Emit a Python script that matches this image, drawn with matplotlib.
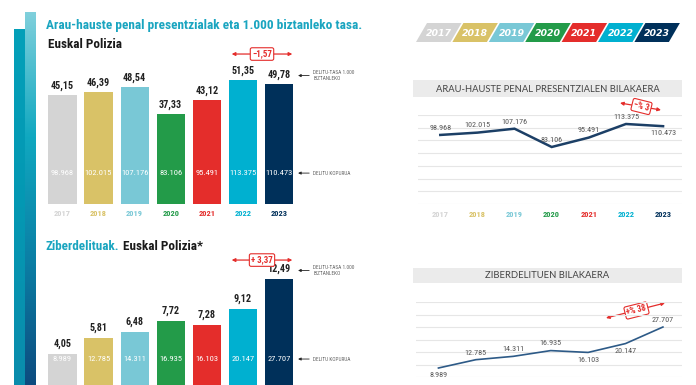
import numpy as np
import matplotlib
matplotlib.use('Agg')
import matplotlib.pyplot as plt
from matplotlib import font_manager
from matplotlib.patches import Polygon, Rectangle
from matplotlib.colors import LinearSegmentedColormap

years = ['2017', '2018', '2019', '2020', '2021', '2022', '2023']
colors = ['#d4d4d4', '#d9c267', '#79c8d6', '#239b49', '#e42d2b', '#00b0d0', '#00305a']
tasa_pres = [45.15, 46.39, 48.54, 37.33, 43.12, 51.35, 49.78]
kop_pres = [98968, 102015, 107176, 83106, 95491, 113375, 110473]
tasa_ziber = [4.05, 5.81, 6.48, 7.72, 7.28, 9.12, 12.49]
kop_ziber = [8989, 12785, 14311, 16935, 16103, 20147, 27707]

W, H = 696, 385
fig = plt.figure(figsize=(W / 100, H / 100), dpi=100)
renderer = fig.canvas.get_renderer()

# buscar una fuente estrecha
fl = font_manager.fontManager.ttflist
def has(name, cond=False):
    return any(f.name == name and (not cond or 'condensed' in str(f.stretch)) for f in fl)

fam, stretch = 'Roboto', 'normal'
for name, cond in [('Liberation Sans Narrow', False), ('Roboto Condensed', False),
                   ('Noto Sans Condensed', False), ('Noto Sans', True),
                   ('DejaVu Sans', True), ('Open Sans', True)]:
    if has(name, cond):
        fam, stretch = name, ('condensed' if cond else 'normal')
        break
NK = dict(family=[fam, 'DejaVu Sans'], fontstretch=stretch)

red = '#e42d2b'
teal = '#1aa5c0'


def box(x0, y0, x1, y1):
    # pixel coords (origin top-left) -> figure fraction
    return [x0 / W, 1 - y1 / H, (x1 - x0) / W, (y1 - y0) / H]


def fmt(v):
    return f'{v:,}'.replace(',', '.')


def coma(v):
    return f'{v:.2f}'.replace('.', ',')


def fit(s, width, **kw):
    # tamaño de letra para que el texto mida 'width' pixeles
    t = fig.text(0, 0, s, fontsize=10, **kw)
    w = t.get_window_extent(renderer).width
    t.remove()
    return 10 * width / w


# fondo en pixeles
bg = fig.add_axes([0, 0, 1, 1], zorder=0)
grad = np.linspace(0, 1, 256).reshape(-1, 1)
cm1 = LinearSegmentedColormap.from_list('a', ['#03a0b9', '#0498b3', '#0a8cac'])
cm2 = LinearSegmentedColormap.from_list('b', ['#80d0dc', '#10a8c0', '#0b7fa5', '#0d4b7f'])
bg.imshow(grad, cmap=cm1, extent=(14, 24.5, H, 29), aspect='auto')
bg.imshow(grad, cmap=cm2, extent=(24.5, 35, H, 12), aspect='auto')
bg.set_xlim(0, W)
bg.set_ylim(H, 0)
bg.axis('off')

# leyenda de años
fs_leg = fit('2017', 26, fontweight='bold', style='italic')
for i, (yr, c) in enumerate(zip(years, colors)):
    x0 = 416 + 36.4 * i
    bg.add_patch(Polygon([(x0, 42), (x0 + 34.5, 42), (x0 + 45.5, 23), (x0 + 11, 23)],
                         closed=True, fc=c, ec='none'))
    bg.text(x0 + 22.7, 33, yr, color='white', fontsize=fs_leg, fontweight='bold',
            style='italic', ha='center', va='center')

# cabeceras grises
for y0, y1, label, wpx in [(80, 97, 'ARAU-HAUSTE PENAL PRESENTZIALEN BILAKAERA', 222),
                           (268, 283, 'ZIBERDELITUEN BILAKAERA', 123)]:
    bg.add_patch(Rectangle((413, y0), 269, y1 - y0, fc='#ebebeb', ec='none'))
    bg.text(547.5, (y0 + y1) / 2 + 0.5, label, ha='center', va='center',
            fontsize=fit(label, wpx, family='Lato'), family='Lato', color='#444444')

# titulos
tit = 'Arau-hauste penal presentzialak eta 1.000 biztanleko tasa.'
bg.text(46, 26, tit, color=teal, fontsize=fit(tit, 316, fontweight='bold', **NK),
        fontweight='bold', va='center', **NK)
fs_sub = fit('Euskal Polizia', 74, fontweight='bold', **NK)
bg.text(48, 45, 'Euskal Polizia', color='#1a1a1a', fontsize=fs_sub, fontweight='bold',
        va='center', **NK)
t1 = bg.text(46, 247, 'Ziberdelituak.', color=teal, fontsize=fs_sub, fontweight='bold',
             va='center', **NK)
bg.annotate(' Euskal Polizia*', xy=(1, 0.5), xycoords=t1, va='center', fontsize=fs_sub,
            fontweight='bold', color='#1a1a1a', **NK)

fs_val = min(fit('45,15', 23, fontweight='bold', **NK), 8)
fs_in = min(fit('102.015', 27, **NK), 8)
fs_year = min(fit('2017', 17, fontweight='bold', **NK), 7.5)
fs_small = min(fit('DELITU-TASA 1.000', 42, **NK), 5)
fs_line = min(fit('98.968', 22, **NK), 6.5)


def year_ticks(ax, pad):
    x = np.arange(len(years))
    ax.set_xticks(x, years)
    ax.tick_params(axis='x', length=0, pad=pad)
    for lab, c in zip(ax.get_xticklabels(), colors):
        lab.set_color(c)
        lab.set_fontweight('bold')
        lab.set_fontsize(fs_year)
        lab.set_family(NK['family'])
        lab.set_fontstretch(stretch)


def bar_panel(ax, tasa, kop, ymax, inner_y, arrow_y, lab_off, show_years):
    x = np.arange(len(years))
    ax.bar(x, tasa, width=0.78, color=colors, zorder=2)
    ax.set_xlim(-0.5, 6.5)
    ax.set_ylim(0, ymax)
    for i in x:
        ax.text(i, tasa[i] + lab_off, coma(tasa[i]), ha='center', va='bottom',
                fontsize=fs_val, fontweight='bold', color='#222222', **NK)
        ax.text(i, inner_y, fmt(kop[i]), ha='center', va='center', color='white',
                fontsize=fs_in, **NK)
    for s in ax.spines.values():
        s.set_visible(False)
    ax.set_yticks([])
    ax.patch.set_visible(False)
    if show_years:
        year_ticks(ax, 4)
    else:
        ax.set_xticks([])
    # flechas laterales
    rate_y = tasa[-1] + lab_off + ymax * 0.025
    ax.annotate('DELITU-TASA 1.000\nBIZTANLEKO', xy=(6.53, rate_y), xytext=(11, 0),
                textcoords='offset points', va='center', ha='left', fontsize=fs_small,
                color='#666666', linespacing=1.3,
                arrowprops=dict(arrowstyle='-|>', color='#222222', lw=0.6,
                                mutation_scale=4, shrinkA=1, shrinkB=0),
                annotation_clip=False, **NK)
    ax.annotate('DELITU KOPURUA', xy=(6.53, inner_y), xytext=(11, 0),
                textcoords='offset points', va='center', ha='left', fontsize=fs_small,
                color='#666666',
                arrowprops=dict(arrowstyle='-|>', color='#222222', lw=0.6,
                                mutation_scale=4, shrinkA=1, shrinkB=0),
                annotation_clip=False, **NK)
    # diferencia
    diff = tasa[-1] - tasa[-2]
    sign = '+ ' if diff > 0 else '\u2212'
    ax.annotate('', xy=(6.37, arrow_y), xytext=(4.69, arrow_y),
                arrowprops=dict(arrowstyle='<|-|>', color=red, lw=0.9,
                                mutation_scale=5, shrinkA=0, shrinkB=0),
                annotation_clip=False)
    ax.text(5.53, arrow_y, sign + coma(abs(diff)), ha='center', va='center', color=red,
            fontsize=fs_val * 0.88, fontweight='bold',
            bbox=dict(boxstyle='round,pad=0.2,rounding_size=0.2', fc='white', ec=red, lw=0.8),
            **NK)


ax1 = fig.add_axes(box(44.4, 40, 297, 204), zorder=1)
bar_panel(ax1, tasa_pres, kop_pres, 164 / 2.415, 12.8, 62.1, 1.7, True)

ax2 = fig.add_axes(box(44.4, 255, 297, 390), zorder=1)
bar_panel(ax2, tasa_ziber, kop_ziber, 135 / 8.9, 3.48, 14.6, 0.56, False)


def line_panel(ax, vals, ylim, nlines, lw, lc, sides, show_years):
    x = np.arange(len(years))
    ax.set_xlim(-0.6, 6.51)
    ax.set_ylim(*ylim)
    for g in np.linspace(ylim[0], ylim[1], nlines):
        ax.axhline(g, color='#e6e6e6', lw=0.8, zorder=0)
    ax.plot(x, vals, color=lc, lw=lw, zorder=2, solid_joinstyle='miter')
    for i in x:
        ax.annotate(fmt(vals[i]), xy=(i, vals[i]), xytext=(0, 3 * sides[i]),
                    textcoords='offset points', ha='center',
                    va='bottom' if sides[i] > 0 else 'top', fontsize=fs_line,
                    color='#555555', annotation_clip=False, **NK)
    for s in ax.spines.values():
        s.set_visible(False)
    ax.set_yticks([])
    ax.patch.set_visible(False)
    if show_years:
        year_ticks(ax, 5)
    else:
        ax.set_xticks([])


ax3 = fig.add_axes(box(418, 115, 682, 204), zorder=1)
line_panel(ax3, kop_pres, (8100, 125200), 8, 1.8, '#1c3f66',
           [1, 1, 1, 1, 1, 1, -1], True)

ax4 = fig.add_axes(box(416, 302, 682, 377), zorder=1)
line_panel(ax4, kop_ziber, (4880, 39130), 7, 1.2, '#2d5a87',
           [-1, 1, 1, 1, -1, -1, 1], False)


def pct_arrow(x0, y0, x1, y1, rot, vals):
    p = (vals[-1] - vals[-2]) / vals[-2] * 100
    txt = ('+% ' if p > 0 else '\u2212% ') + str(int(round(abs(p))))
    bg.annotate('', xy=(x1, y1), xytext=(x0, y0),
                arrowprops=dict(arrowstyle='<|-|>', color=red, lw=0.9,
                                mutation_scale=5, shrinkA=0, shrinkB=0))
    bg.text((x0 + x1) / 2 + 1, (y0 + y1) / 2, txt, rotation=rot, rotation_mode='anchor',
            ha='center', va='center', color=red, fontsize=fs_val * 0.85, fontweight='bold',
            zorder=5,
            bbox=dict(boxstyle='round,pad=0.2,rounding_size=0.2', fc='white', ec=red, lw=0.8),
            **NK)


pct_arrow(620, 103, 661, 110, -14, kop_pres)
pct_arrow(606, 318, 665, 303, 14, kop_ziber)

fig.savefig('out.png', dpi=100)
